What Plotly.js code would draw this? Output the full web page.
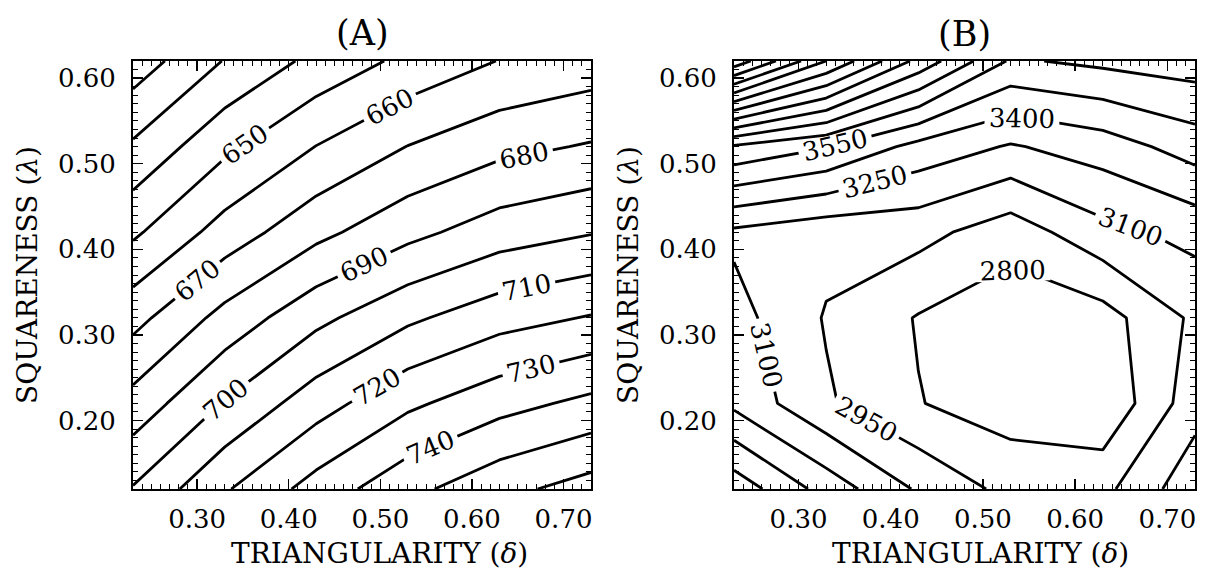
<!DOCTYPE html>
<html>
<head>
<meta charset="utf-8">
<script src="https://cdn.plot.ly/plotly-3.0.1.min.js"></script>
<style>html,body{margin:0;padding:0;background:#fff;}</style>
</head>
<body>
<div id="chart" style="width:1207px;height:578px;"></div>
<script>
// grid of the computed points
const triangularity = [0.23, 0.33, 0.43, 0.53, 0.63, 0.73];
const squareness    = [0.12, 0.22, 0.32, 0.42, 0.52, 0.62];

// Panel A values (rows = squareness, cols = triangularity)
const valuesA = [
  [700.7, 718.9, 734.1, 747.1, 757.0, 764.2],
  [683.7, 700.7, 715.6, 728.0, 736.4, 742.5],
  [666.6, 683.4, 697.3, 708.1, 716.1, 720.7],
  [648.2, 664.2, 677.2, 687.1, 695.1, 699.4],
  [631.5, 647.7, 660.2, 670.2, 677.1, 680.9],
  [614.4, 630.5, 642.8, 652.5, 660.3, 664.3]
];

// Panel B values
const valuesB = [
  [3644, 3340, 3080, 2903, 2908, 3204],
  [3216, 2970, 2806, 2725, 2672, 3038],
  [3156, 2938, 2790, 2697, 2738, 2980],
  [3070, 3000, 3000, 2866, 3054, 3148],
  [3680, 3560, 3350, 3236, 3322, 3470],
  [5150, 4600, 4105, 3680, 3735, 3775]
];

// contour levels
const levelsA_labeled   = {start: 630, end: 740, size: 10};
const levelsA_unlabeled = [{start: 620, end: 620, size: 10}, {start: 750, end: 760, size: 10}];
const levelsB_labeled   = {start: 2800, end: 4150, size: 150};
const levelsB_unlabeled = [{start: 4300, end: 5050, size: 150}];

const xTitle = 'TRIANGULARITY (<i>δ</i>)';
const yTitle = 'SQUARENESS (<i>λ</i>)';
const panelTitles = ['(A)', '(B)'];

const FONT = 'DejaVu Serif';

function contourTrace(z, lv, labeled, xa, ya) {
  return {
    type: 'contour', x: triangularity, y: squareness, z: z,
    xaxis: xa, yaxis: ya, autocontour: false, showscale: false,
    hoverinfo: 'skip',
    contours: {coloring: 'none', start: lv.start, end: lv.end, size: lv.size,
      showlabels: labeled, labelformat: '.0f',
      labelfont: {family: FONT, size: 26, color: '#000'}},
    line: {color: '#000', width: 2.8, smoothing: 0}
  };
}

const data = [];
data.push(contourTrace(valuesA, levelsA_labeled, true, 'x', 'y'));
levelsA_unlabeled.forEach(l => data.push(contourTrace(valuesA, l, false, 'x', 'y')));
data.push(contourTrace(valuesB, levelsB_labeled, true, 'x2', 'y2'));
levelsB_unlabeled.forEach(l => data.push(contourTrace(valuesB, l, false, 'x2', 'y2')));

function xAxis(domain, anchor) {
  return {
    domain: domain, anchor: anchor, range: [0.23, 0.73],
    tick0: 0.3, dtick: 0.1, tickformat: '.2f',
    ticks: 'inside', ticklen: 10, tickwidth: 1.5, tickcolor: '#000',
    showline: true, linecolor: '#000', linewidth: 2, mirror: 'ticks',
    showgrid: false, zeroline: false, fixedrange: true,
    minor: {dtick: 0.01, ticks: 'inside', ticklen: 5, tickwidth: 1, tickcolor: '#000', showgrid: false},
    tickfont: {family: FONT, size: 26, color: '#000'},
    ticklabelstandoff: 6
  };
}
function yAxis(domain, anchor) {
  return {
    domain: domain, anchor: anchor, range: [0.12, 0.62],
    tick0: 0.2, dtick: 0.1, tickformat: '.2f',
    ticks: 'inside', ticklen: 10, tickwidth: 1.5, tickcolor: '#000',
    showline: true, linecolor: '#000', linewidth: 2, mirror: 'ticks',
    showgrid: false, zeroline: false, fixedrange: true,
    minor: {dtick: 0.01, ticks: 'inside', ticklen: 5, tickwidth: 1, tickcolor: '#000', showgrid: false},
    tickfont: {family: FONT, size: 26, color: '#000'},
    ticklabelstandoff: 10,
    title: {text: yTitle, font: {family: FONT, size: 28, color: '#000'}, standoff: 12}
  };
}

const W = 1207, H = 578;
const domA = [133 / W, 591 / W];
const domB = [734 / W, 1195 / W];
const domY = [(H - 489) / H, (H - 61) / H];

function ann(text, xpx, ypx, size) {
  return {text: text, x: xpx / W, y: 1 - ypx / H, xref: 'paper', yref: 'paper',
    showarrow: false, xanchor: 'center', yanchor: 'middle',
    font: {family: FONT, size: size, color: '#000'}};
}

const layout = {
  width: W, height: H,
  margin: {l: 0, r: 0, t: 0, b: 0},
  paper_bgcolor: '#fff', plot_bgcolor: '#fff',
  showlegend: false,
  xaxis: xAxis(domA, 'y'),
  yaxis: yAxis(domY, 'x'),
  xaxis2: xAxis(domB, 'y2'),
  yaxis2: yAxis(domY, 'x2'),
  annotations: [
    ann(panelTitles[0], 362, 33, 35),
    ann(panelTitles[1], 964, 34, 35),
    ann(xTitle, 379, 553, 28),
    ann(xTitle, 980, 553, 28)
  ]
};

Plotly.newPlot('chart', data, layout, {staticPlot: true, displayModeBar: false});
</script>
</body>
</html>
